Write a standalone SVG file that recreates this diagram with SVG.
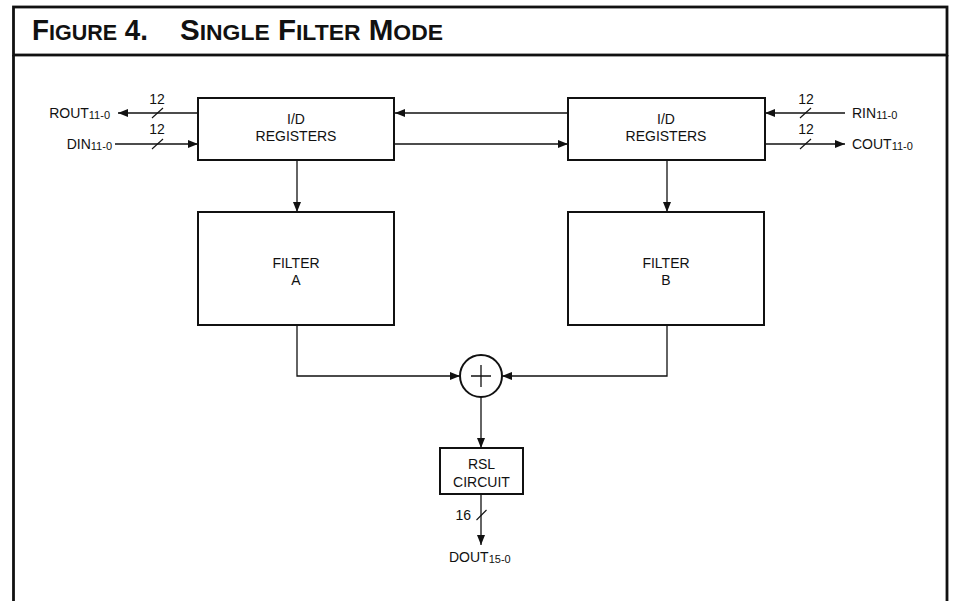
<svg xmlns="http://www.w3.org/2000/svg" width="953" height="601" viewBox="0 0 953 601">
<defs>
<style>
.frame{fill:none;stroke:#111;stroke-width:2.8}
.box{fill:#fff;stroke:#111;stroke-width:2}
.ln{fill:none;stroke:#111;stroke-width:1.3}
.sl{stroke:#111;stroke-width:1.1}
.t{font-family:"Liberation Sans",Arial,sans-serif;font-size:14px;fill:#111}
.c{text-anchor:middle}
.sub{font-size:11px}
.title{font-family:"Liberation Sans",Arial,sans-serif;font-weight:bold;font-size:29px;fill:#111}
.sc{font-size:22.5px}
</style>
<marker id="ah" markerUnits="userSpaceOnUse" markerWidth="10" markerHeight="8" refX="10" refY="4" orient="auto">
<path d="M0,0 L10,4 L0,8 Z" fill="#111"/>
</marker>
</defs>
<rect x="0" y="0" width="953" height="601" fill="#fff"/>
<g id="frame">
<rect x="13.5" y="7" width="933.5" height="48" fill="#cdc9c8" class="frame"/>
<line x1="13.5" y1="55" x2="13.5" y2="601" class="frame"/>
<line x1="947" y1="55" x2="947" y2="601" class="frame"/>
<text class="title" x="32" y="40" textLength="116" lengthAdjust="spacingAndGlyphs">F<tspan class="sc">IGURE</tspan> 4.</text>
<text class="title" x="180" y="40" textLength="263" lengthAdjust="spacingAndGlyphs">S<tspan class="sc">INGLE</tspan> F<tspan class="sc">ILTER</tspan> M<tspan class="sc">ODE</tspan></text>
</g>
<g id="connectors">
<line x1="198" y1="113" x2="118" y2="113" class="ln" marker-end="url(#ah)"/>
<line x1="115" y1="144" x2="198" y2="144" class="ln" marker-end="url(#ah)"/>
<line x1="568" y1="113" x2="395" y2="113" class="ln" marker-end="url(#ah)"/>
<line x1="394" y1="144" x2="568" y2="144" class="ln" marker-end="url(#ah)"/>
<line x1="845" y1="113" x2="765" y2="113" class="ln" marker-end="url(#ah)"/>
<line x1="765" y1="144" x2="845" y2="144" class="ln" marker-end="url(#ah)"/>
<line x1="297" y1="160" x2="297" y2="212" class="ln" marker-end="url(#ah)"/>
<line x1="667" y1="160" x2="667" y2="212" class="ln" marker-end="url(#ah)"/>
<path d="M297,325 V376 H460" class="ln" marker-end="url(#ah)"/>
<path d="M667,325 V376 H502" class="ln" marker-end="url(#ah)"/>
<line x1="481" y1="397" x2="481" y2="448" class="ln" marker-end="url(#ah)"/>
<line x1="481" y1="494" x2="481" y2="545" class="ln" marker-end="url(#ah)"/>
<line x1="152" y1="118" x2="163" y2="108" class="sl"/>
<line x1="152" y1="149" x2="163" y2="139" class="sl"/>
<line x1="800" y1="118" x2="811" y2="108" class="sl"/>
<line x1="800" y1="149" x2="811" y2="139" class="sl"/>
<line x1="476.5" y1="520" x2="486.5" y2="510" class="sl"/>
<text class="t c" x="157" y="104">12</text>
<text class="t c" x="157" y="134">12</text>
<text class="t c" x="806" y="104">12</text>
<text class="t c" x="806" y="134">12</text>
<text class="t" x="471" y="520" text-anchor="end">16</text>
</g>
<g id="ports">
<text class="t" x="110" y="118" text-anchor="end">ROUT<tspan class="sub" dy="1">11-0</tspan></text>
<text class="t" x="112" y="149" text-anchor="end">DIN<tspan class="sub" dy="1">11-0</tspan></text>
<text class="t" x="852" y="118">RIN<tspan class="sub" dy="1">11-0</tspan></text>
<text class="t" x="852" y="149">COUT<tspan class="sub" dy="1">11-0</tspan></text>
<text class="t" x="449" y="562">DOUT<tspan class="sub" dy="1">15-0</tspan></text>
</g>
<g id="regA">
<rect x="198" y="98" width="196" height="62" class="box"/>
<text class="t c" x="296" y="124">I/D</text>
<text class="t c" x="296" y="141">REGISTERS</text>
</g>
<g id="regB">
<rect x="568" y="98" width="197" height="62" class="box"/>
<text class="t c" x="666" y="124">I/D</text>
<text class="t c" x="666" y="141">REGISTERS</text>
</g>
<g id="filterA">
<rect x="198" y="212" width="196" height="113" class="box"/>
<text class="t c" x="296" y="268">FILTER</text>
<text class="t c" x="296" y="285">A</text>
</g>
<g id="filterB">
<rect x="568" y="212" width="196" height="113" class="box"/>
<text class="t c" x="666" y="268">FILTER</text>
<text class="t c" x="666" y="285">B</text>
</g>
<g id="adder">
<circle cx="481" cy="376" r="21" class="box"/>
<path d="M471,376 H491 M481,365 V387" class="ln"/>
</g>
<g id="rsl">
<rect x="440" y="448" width="83" height="46" class="box"/>
<text class="t c" x="481.5" y="469">RSL</text>
<text class="t c" x="481.5" y="487">CIRCUIT</text>
</g>
</svg>
